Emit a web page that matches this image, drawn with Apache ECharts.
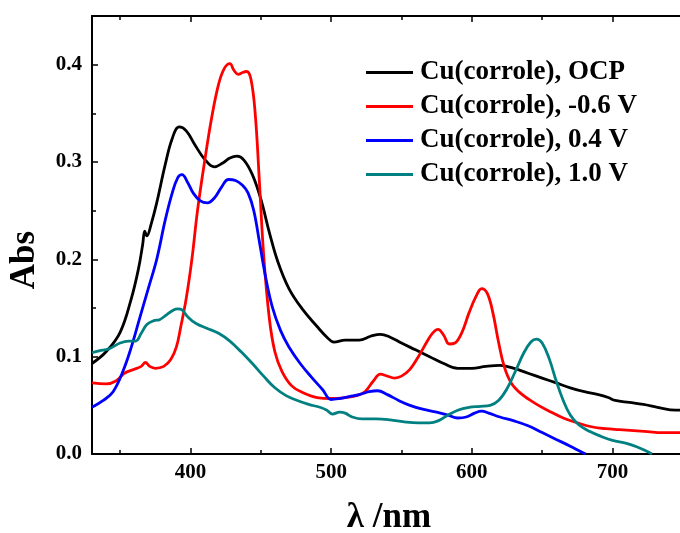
<!DOCTYPE html>
<html><head><meta charset="utf-8">
<script src="https://cdn.jsdelivr.net/npm/echarts@6/dist/echarts.min.js"></script>
<style>html,body{margin:0;padding:0;background:#fff}#c{width:680px;height:533px}</style>
</head><body><div id="c"></div><script>
const seriesNames = ['Cu(corrole), OCP', 'Cu(corrole), -0.6 V', 'Cu(corrole), 0.4 V', 'Cu(corrole), 1.0 V'];
const seriesColors = ['#000000', '#ff0000', '#0000ff', '#008080'];
const ocp = [[330,0.093],[340,0.105],[350,0.125],[358,0.16],[363,0.19],[366,0.215],[367.5,0.229],[369,0.224],[372,0.236],[376,0.258],[382,0.297],[387,0.324],[392,0.336],[397,0.332],[403,0.318],[410,0.303],[417,0.295],[423,0.299],[428,0.304],[433,0.306],[438,0.302],[444,0.287],[450,0.262],[456,0.228],[462,0.198],[470,0.17],[480,0.148],[490,0.131],[497,0.12],[502,0.115],[510,0.117],[520,0.117],[528,0.121],[535,0.123],[542,0.12],[550,0.114],[560,0.107],[570,0.1],[580,0.093],[590,0.088],[600,0.088],[610,0.09],[620,0.091],[630,0.088],[640,0.083],[650,0.078],[660,0.073],[670,0.068],[680,0.064],[690,0.061],[697,0.058],[702,0.055],[712,0.053],[722,0.051],[732,0.048],[745,0.045],[748,0.045]];
const neg06 = [[330,0.073],[340,0.072],[347,0.075],[353,0.083],[360,0.087],[365,0.09],[368,0.094],[371,0.09],[375,0.088],[381,0.09],[386,0.097],[390,0.11],[393,0.13],[397,0.16],[401,0.2],[405,0.25],[410,0.3],[415,0.345],[420,0.38],[424,0.396],[428,0.401],[431,0.394],[434,0.39],[437,0.392],[440,0.393],[443,0.385],[446,0.35],[449,0.28],[452,0.205],[456,0.14],[460,0.105],[465,0.085],[472,0.07],[480,0.063],[490,0.058],[500,0.057],[510,0.058],[518,0.06],[524,0.064],[530,0.075],[535,0.082],[540,0.08],[545,0.078],[550,0.08],[556,0.087],[562,0.1],[568,0.115],[572,0.124],[576,0.128],[580,0.122],[584,0.113],[588,0.114],[593,0.125],[598,0.145],[603,0.162],[607,0.17],[611,0.165],[615,0.145],[619,0.115],[623,0.09],[628,0.073],[635,0.062],[645,0.052],[655,0.044],[665,0.037],[675,0.032],[685,0.028],[695,0.026],[705,0.025],[715,0.024],[725,0.023],[735,0.022],[748,0.022]];
const pos04 = [[330,0.048],[338,0.055],[345,0.064],[352,0.085],[358,0.11],[364,0.14],[370,0.17],[376,0.2],[382,0.24],[387,0.268],[391,0.284],[394,0.287],[398,0.279],[402,0.268],[407,0.26],[412,0.258],[417,0.263],[422,0.274],[427,0.282],[432,0.281],[437,0.276],[441,0.268],[445,0.25],[449,0.218],[453,0.185],[458,0.152],[464,0.127],[470,0.11],[478,0.093],[486,0.079],[494,0.066],[500,0.056],[506,0.057],[513,0.059],[520,0.061],[527,0.064],[533,0.065],[540,0.061],[548,0.055],[556,0.05],[565,0.046],[575,0.043],[583,0.04],[590,0.037],[596,0.038],[602,0.042],[607,0.044],[612,0.042],[620,0.038],[630,0.034],[640,0.029],[650,0.022],[660,0.015],[670,0.008],[678,0.002],[681,0.0]];
const pos10 = [[330,0.104],[335,0.106],[342,0.108],[350,0.114],[356,0.116],[361,0.116],[365,0.124],[369,0.133],[374,0.137],[378,0.138],[383,0.143],[388,0.148],[391,0.149],[394,0.148],[398,0.141],[404,0.134],[412,0.129],[420,0.124],[428,0.116],[436,0.105],[444,0.093],[452,0.08],[460,0.068],[468,0.06],[476,0.055],[484,0.051],[492,0.048],[497,0.045],[501,0.041],[506,0.043],[510,0.042],[515,0.038],[522,0.036],[532,0.036],[542,0.035],[552,0.033],[562,0.032],[570,0.032],[576,0.034],[582,0.039],[590,0.045],[598,0.048],[606,0.049],[613,0.05],[619,0.055],[625,0.067],[631,0.085],[637,0.104],[642,0.115],[646,0.118],[650,0.114],[655,0.098],[660,0.075],[665,0.055],[670,0.04],[676,0.03],[684,0.023],[692,0.018],[700,0.014],[710,0.011],[718,0.007],[724,0.003],[728,0.0]];
const xMajorTicks = [400, 500, 600, 700];
const xMinorTicks = [350, 450, 550, 650];
const yMajorTicks = [0, 0.1, 0.2, 0.3, 0.4];
const yMinorTicks = [0.05, 0.15, 0.25, 0.35, 0.45];
const xLabel = 'λ /nm';
const yLabel = 'Abs';

const FONT = '"Liberation Serif", "Times New Roman", serif';
const XMIN = 330, XMAX = 748, YMIN = 0, YMAX = 0.45;
const allData = [ocp, neg06, pos04, pos10];

function xAx(pos, ticks, len, labels, line) {
  return {
    type: 'value', position: pos, min: XMIN, max: XMAX,
    axisLine: { show: line, onZero: false, lineStyle: { color: '#000', width: 2 } },
    axisTick: { show: true, inside: true, length: len, customValues: ticks, lineStyle: { color: '#000', width: 1.5 } },
    axisLabel: { show: labels, customValues: ticks, margin: 8, color: '#000', fontFamily: FONT, fontWeight: 'bold', fontSize: 21 },
    splitLine: { show: false }
  };
}
function yAx(ticks, len, labels, line) {
  return {
    type: 'value', position: 'left', min: YMIN, max: YMAX,
    axisLine: { show: line, onZero: false, lineStyle: { color: '#000', width: 2 } },
    axisTick: { show: true, inside: true, length: len, customValues: ticks, lineStyle: { color: '#000', width: 1.5 } },
    axisLabel: { show: labels, customValues: ticks, margin: 10, color: '#000', fontFamily: FONT, fontWeight: 'bold', fontSize: 21,
      formatter: v => v.toFixed(1) },
    splitLine: { show: false }
  };
}

const chart = echarts.init(document.getElementById('c'), null, { renderer: 'canvas' });
chart.setOption({
  animation: false,
  backgroundColor: '#fff',
  grid: { left: 92, top: 16, right: -3, bottom: 79, containLabel: false },
  xAxis: [
    xAx('bottom', xMajorTicks, 6, true, true),
    xAx('bottom', xMinorTicks, 4, false, false),
    xAx('top', xMajorTicks, 6, false, true),
    xAx('top', xMinorTicks, 4, false, false)
  ],
  yAxis: [
    yAx(yMajorTicks, 6, true, true),
    yAx(yMinorTicks, 4, false, false)
  ],
  legend: {
    left: 361, top: 54, orient: 'vertical', icon: 'rect', itemWidth: 47, itemHeight: 3, itemGap: 7,
    data: seriesNames,
    textStyle: { color: '#000', fontFamily: FONT, fontWeight: 'bold', fontSize: 27, lineHeight: 27, padding: [0, 0, 0, 2] }
  },
  graphic: [
    { type: 'text', x: 389, y: 500, style: { text: xLabel, fill: '#000', font: 'bold 35px ' + FONT, align: 'center', verticalAlign: 'top' } },
    { type: 'text', x: 7, y: 260, rotation: Math.PI / 2, style: { text: yLabel, fill: '#000', font: 'bold 35px ' + FONT, align: 'center', verticalAlign: 'top' } }
  ],
  series: allData.map((d, i) => ({
    name: seriesNames[i], type: 'line', data: d, smooth: 0.4, showSymbol: false, symbol: 'none',
    xAxisIndex: 0, yAxisIndex: 0, clip: true,
    lineStyle: { color: seriesColors[i], width: 2.8 }, itemStyle: { color: seriesColors[i] }
  }))
});
</script></body></html>
